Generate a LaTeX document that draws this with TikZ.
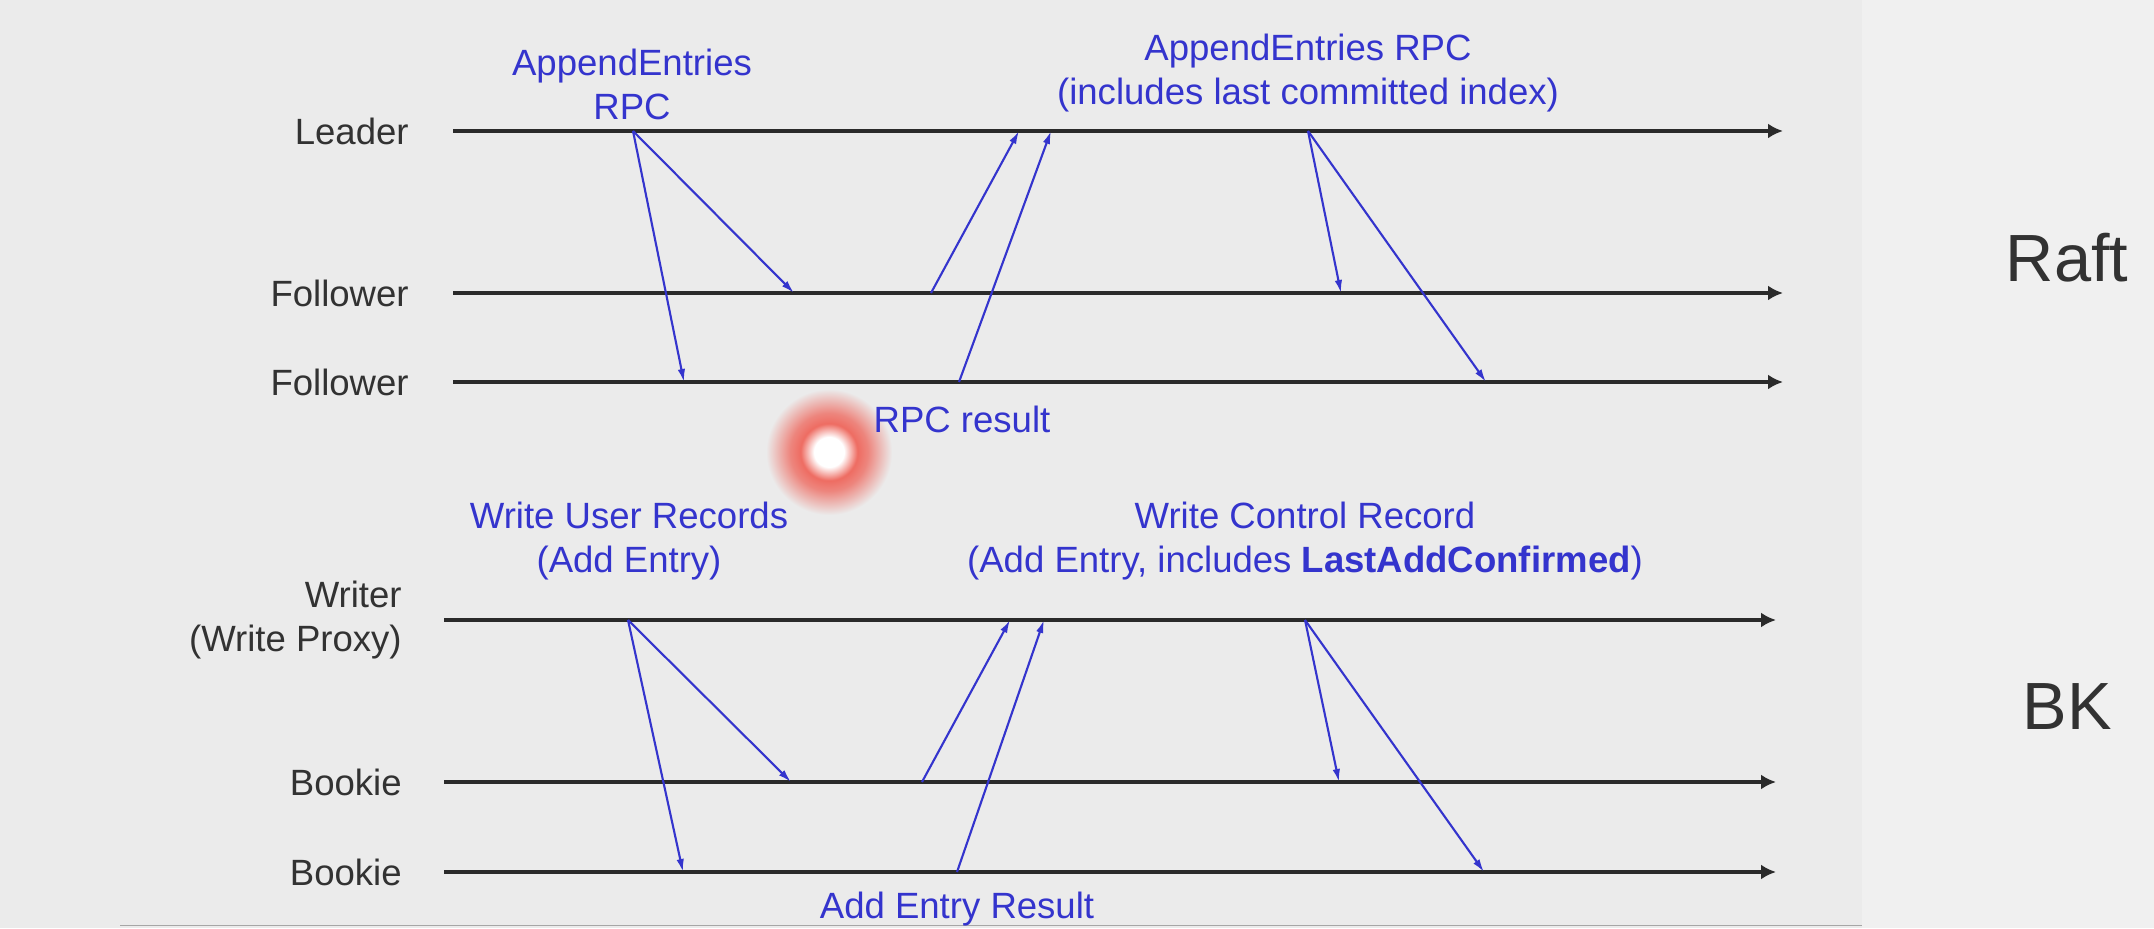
\documentclass[tikz,border=0pt]{standalone}
\usepackage{fontspec}
\setmainfont{Liberation Sans}
\usetikzlibrary{arrows.meta}
\definecolor{bgcol}{RGB}{235,235,235}
\definecolor{panelcol}{RGB}{240,240,240}
\definecolor{msgblue}{RGB}{52,52,205}
\definecolor{linegray}{RGB}{42,42,42}
\definecolor{textgray}{RGB}{50,50,50}
\definecolor{laser}{RGB}{238,108,98}
\pgfdeclareradialshading{laserdot}{\pgfpoint{0bp}{0bp}}{color(0bp)=(white); color(5bp)=(white); color(9.5bp)=(laser); color(13bp)=(laser!80!bgcol); color(21bp)=(bgcol); color(50bp)=(bgcol)}
\tikzset{
  lifeline/.style={line width=2.4pt, linegray, -{Latex[length=0.3cm,width=0.3cm]}},
  msg/.style={line width=1.2pt, msgblue, -{Latex[length=0.26cm,width=0.15cm]}},
  who/.style={anchor=east, inner sep=0pt, text=textgray, align=right, font=\fontsize{20.8}{25}\selectfont},
  note/.style={inner sep=0pt, text=msgblue, align=center, font=\fontsize{20.8}{25}\selectfont},
  side/.style={inner sep=0pt, text=textgray, font=\fontsize{38}{40}\selectfont}
}
\begin{document}
\begin{tikzpicture}[x=1cm,y=1cm]
\useasboundingbox (0,0) rectangle (43.08,18.56);
\fill[bgcol] (0,0) rectangle (43.08,18.56);
\fill[panelcol] (37.24,0) rectangle (43.08,18.56);
\draw[gray!70, line width=0.8pt] (2.4,0.05) -- (37.24,0.05);
\shade[shading=laserdot] (16.58,9.52) circle (1.5);

% lifelines
\node[who] (lead) at (8.18,15.94) {Leader};
\node[who] (fol1) at (8.18,12.70) {Follower};
\node[who] (fol2) at (8.18,10.92) {Follower};
\node[who] (wri) at (8.04,6.16) {Writer\\(Write Proxy)};
\node[who] (bk1) at (8.04,2.92) {Bookie};
\node[who] (bk2) at (8.04,1.12) {Bookie};

\coordinate (ld0) at (9.06,15.94);  \coordinate (ld1) at (35.66,15.94);
\coordinate (fa0) at (9.06,12.70);  \coordinate (fa1) at (35.66,12.70);
\coordinate (fb0) at (9.06,10.92);  \coordinate (fb1) at (35.66,10.92);
\coordinate (wr0) at (8.88,6.16);   \coordinate (wr1) at (35.52,6.16);
\coordinate (ba0) at (8.88,2.92);   \coordinate (ba1) at (35.52,2.92);
\coordinate (bb0) at (8.88,1.12);   \coordinate (bb1) at (35.52,1.12);
\foreach \a/\b in {ld0/ld1,fa0/fa1,fb0/fb1,wr0/wr1,ba0/ba1,bb0/bb1}
  \draw[lifeline] (\a) -- (\b);

% raft messages
\coordinate (r1) at (12.66,15.94);
\coordinate (r2) at (15.88,12.70);
\coordinate (r3) at (13.68,10.92);
\coordinate (r4) at (18.62,12.70);
\coordinate (r5) at (20.38,15.94);
\coordinate (r6) at (19.18,10.92);
\coordinate (r7) at (21.02,15.94);
\coordinate (r8) at (26.16,15.94);
\coordinate (r9) at (26.82,12.70);
\coordinate (r10) at (29.72,10.92);
\draw[msg] (r1) -- (r2);
\draw[msg] (r1) -- (r3);
\draw[msg] (r4) -- (r5);
\draw[msg] (r6) -- (r7);
\draw[msg] (r8) -- (r9);
\draw[msg] (r8) -- (r10);

% bk messages
\coordinate (b1) at (12.56,6.16);
\coordinate (b2) at (15.82,2.92);
\coordinate (b3) at (13.66,1.12);
\coordinate (b4) at (18.44,2.92);
\coordinate (b5) at (20.20,6.16);
\coordinate (b6) at (19.14,1.12);
\coordinate (b7) at (20.88,6.16);
\coordinate (b8) at (26.10,6.16);
\coordinate (b9) at (26.78,2.92);
\coordinate (b10) at (29.68,1.12);
\draw[msg] (b1) -- (b2);
\draw[msg] (b1) -- (b3);
\draw[msg] (b4) -- (b5);
\draw[msg] (b6) -- (b7);
\draw[msg] (b8) -- (b9);
\draw[msg] (b8) -- (b10);

\node[note] (aerpc) at (12.64,16.88) {AppendEntries\\RPC};
\node[note] (aeidx) at (26.16,17.10) {AppendEntries RPC\\(includes last committed index)};
\node[note] (rpcres) at (19.24,10.18) {RPC result};
\node[note] (wur) at (12.58,7.74) {Write User Records\\(Add Entry)};
\node[note] (wcr) at (26.10,7.74) {Write Control Record\\(Add Entry, includes \textbf{LastAddConfirmed})};
\node[note] (aer) at (19.14,0.38) {Add Entry Result};

\node[side] (raft) at (41.34,13.40) {Raft};
\node[side] (bk) at (41.34,4.42) {BK};
\end{tikzpicture}
\end{document}
